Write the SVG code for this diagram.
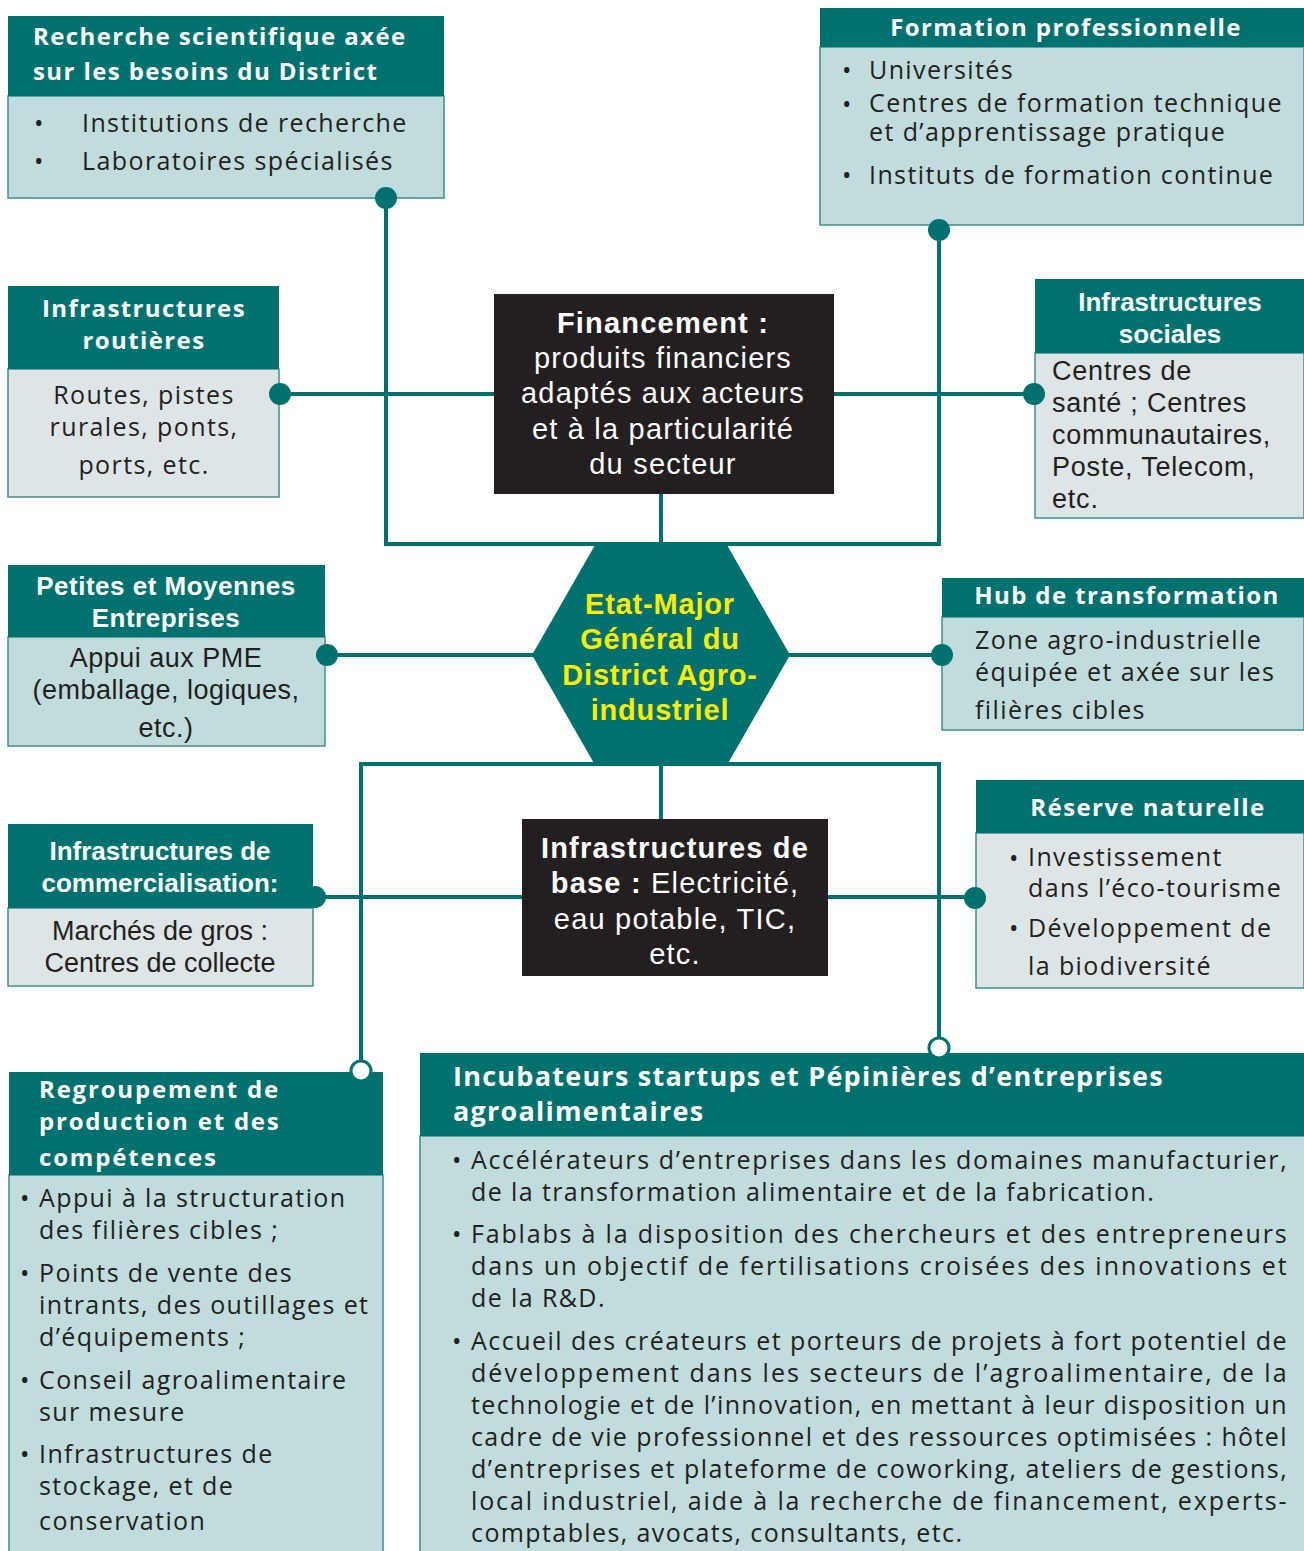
<svg xmlns="http://www.w3.org/2000/svg" width="1304" height="1551" viewBox="0 0 1304 1551">
<defs>
<style>
.hd{fill:#00716f}
.bl{fill:#c0dcdc;stroke:#3f8f8e;stroke-width:1.5}
.bg{fill:#dde5e6;stroke:#3f8f8e;stroke-width:1.5}
.bk{fill:#231f20}
.ht{font-family:"Open Sans","Liberation Sans",sans-serif;font-weight:700;font-size:24px;letter-spacing:1.4px;fill:#fff}
.hc{font-family:"Liberation Sans",Arial,sans-serif;font-weight:700;font-size:26px;fill:#fff}
.bt{font-family:"Open Sans","Liberation Sans",sans-serif;font-size:25px;letter-spacing:1.4px;fill:#231f20}
.bc{font-family:"Liberation Sans",Arial,sans-serif;font-size:27px;fill:#231f20}
.wt{font-family:"Liberation Sans",Arial,sans-serif;font-size:29px;letter-spacing:1.2px;fill:#fff}
.yt{font-family:"Liberation Sans",Arial,sans-serif;font-weight:700;font-size:29px;letter-spacing:0.8px;fill:#ffed00}
.mid{text-anchor:middle}
.ln{fill:none;stroke:#00716f;stroke-width:4}
.dot{fill:#00716f}
.odot{fill:#fff;stroke:#00716f;stroke-width:3}
</style>
</defs>
<g id="connectors">
<path class="ln" d="M386,198 V544 H939 V230"/>
<path class="ln" d="M280,394 H494 M833,394 H1034"/>
<path class="ln" d="M661,494 V546"/>
<path class="ln" d="M327,655 H534 M788,655 H942"/>
<path class="ln" d="M361,1062 V764 H939 V1040"/>
<path class="ln" d="M661,764 V820"/>
<path class="ln" d="M315,897 H522 M828,897 H975"/>
</g>
<g id="recherche">
<rect class="bl" x="8" y="96" width="436" height="102"/>
<rect class="hd" x="8" y="16" width="436" height="80"/>
<text class="ht" x="33" y="45">Recherche scientifique axée</text>
<text class="ht" x="33" y="80">sur les besoins du District</text>
<text class="bt" x="34" y="132">•</text>
<text class="bt" x="82" y="132">Institutions de recherche</text>
<text class="bt" x="34" y="170">•</text>
<text class="bt" x="82" y="170">Laboratoires spécialisés</text>
<circle class="dot" cx="386" cy="198" r="11"/>
</g>
<g id="formation">
<rect class="bl" x="820" y="47" width="484" height="178"/>
<rect class="hd" x="820" y="8" width="484" height="39"/>
<text class="ht mid" x="1066" y="36">Formation professionnelle</text>
<text class="bt" x="842" y="79">•</text>
<text class="bt" x="869" y="79">Universités</text>
<text class="bt" x="842" y="113">•</text>
<text class="bt" x="869" y="112">Centres de formation technique</text>
<text class="bt" x="869" y="141">et d’apprentissage pratique</text>
<text class="bt" x="842" y="184">•</text>
<text class="bt" x="869" y="184">Instituts de formation continue</text>
<circle class="dot" cx="939" cy="230" r="11"/>
</g>
<g id="routieres">
<rect class="bg" x="8" y="369" width="271" height="128"/>
<rect class="hd" x="8" y="286" width="271" height="83"/>
<text class="ht mid" x="144" y="317">Infrastructures</text>
<text class="ht mid" x="144" y="349">routières</text>
<text class="bt mid" x="144" y="404">Routes, pistes</text>
<text class="bt mid" x="144" y="436">rurales, ponts,</text>
<text class="bt mid" x="144" y="474">ports, etc.</text>
<circle class="dot" cx="280" cy="394" r="11"/>
</g>
<g id="financement">
<rect class="bk" x="494" y="294" width="340" height="200"/>
<text class="wt mid" x="663" y="333" font-weight="700">Financement :</text>
<text class="wt mid" x="663" y="368">produits financiers</text>
<text class="wt mid" x="663" y="403">adaptés aux acteurs</text>
<text class="wt mid" x="663" y="439">et à la particularité</text>
<text class="wt mid" x="663" y="474">du secteur</text>
</g>
<g id="sociales">
<rect class="bg" x="1035" y="353" width="269" height="165"/>
<rect class="hd" x="1035" y="279" width="269" height="74"/>
<text class="hc mid" x="1170" y="311">Infrastructures</text>
<text class="hc mid" x="1170" y="343">sociales</text>
<text class="bc" x="1052" y="380" style="letter-spacing:0.8px">Centres de</text>
<text class="bc" x="1052" y="412" style="letter-spacing:0.8px">santé ; Centres</text>
<text class="bc" x="1052" y="444" style="letter-spacing:0.8px">communautaires,</text>
<text class="bc" x="1052" y="476" style="letter-spacing:0.8px">Poste, Telecom,</text>
<text class="bc" x="1052" y="508" style="letter-spacing:0.8px">etc.</text>
<circle class="dot" cx="1034" cy="394" r="11"/>
</g>
<g id="etat-major">
<polygon class="dot" points="595,545 727,545 790,655 727,765 595,765 532,655"/>
<text class="yt mid" x="660" y="614">Etat-Major</text>
<text class="yt mid" x="660" y="649">Général du</text>
<text class="yt mid" x="660" y="685">District Agro-</text>
<text class="yt mid" x="660" y="720">industriel</text>
</g>
<g id="pme">
<rect class="bl" x="8" y="637" width="317" height="109"/>
<rect class="hd" x="8" y="565" width="317" height="72"/>
<text class="hc mid" x="166" y="595" style="letter-spacing:0.5px">Petites et Moyennes</text>
<text class="hc mid" x="166" y="627" style="letter-spacing:0.5px">Entreprises</text>
<text class="bc mid" x="166" y="667" style="letter-spacing:0.5px">Appui aux PME</text>
<text class="bc mid" x="166" y="699" style="letter-spacing:0.5px">(emballage, logiques,</text>
<text class="bc mid" x="166" y="737" style="letter-spacing:0.5px">etc.)</text>
<circle class="dot" cx="327" cy="655" r="11"/>
</g>
<g id="hub">
<rect class="bl" x="942" y="617" width="362" height="113"/>
<rect class="hd" x="942" y="578" width="362" height="39"/>
<text class="ht mid" x="1127" y="604">Hub de transformation</text>
<text class="bt" x="975" y="649">Zone agro-industrielle</text>
<text class="bt" x="975" y="681">équipée et axée sur les</text>
<text class="bt" x="975" y="719">filières cibles</text>
<circle class="dot" cx="942" cy="655" r="11"/>
</g>
<g id="reserve">
<rect class="bg" x="976" y="833" width="328" height="155"/>
<rect class="hd" x="976" y="780" width="328" height="53"/>
<text class="ht mid" x="1148" y="816">Réserve naturelle</text>
<text class="bt" x="1009" y="867">•</text>
<text class="bt" x="1028" y="866">Investissement</text>
<text class="bt" x="1028" y="897">dans l’éco-tourisme</text>
<text class="bt" x="1009" y="937">•</text>
<text class="bt" x="1028" y="937">Développement de</text>
<text class="bt" x="1028" y="975">la biodiversité</text>
<circle class="dot" cx="975" cy="898" r="11"/>
</g>
<g id="commercialisation">
<rect class="bg" x="8" y="908" width="305" height="78"/>
<rect class="hd" x="8" y="824" width="305" height="84"/>
<text class="hc mid" x="160" y="860">Infrastructures de</text>
<text class="hc mid" x="160" y="892">commercialisation:</text>
<text class="bc mid" x="160" y="940">Marchés de gros :</text>
<text class="bc mid" x="160" y="972">Centres de collecte</text>
<circle class="dot" cx="315" cy="897" r="11"/>
</g>
<g id="infra-base">
<rect class="bk" x="522" y="819" width="306" height="157"/>
<text class="wt mid" x="675" y="858" font-weight="700">Infrastructures de</text>
<text class="wt mid" x="675" y="893"><tspan font-weight="700">base :</tspan> Electricité,</text>
<text class="wt mid" x="675" y="929">eau potable, TIC,</text>
<text class="wt mid" x="675" y="964">etc.</text>
</g>
<g id="regroupement">
<rect class="bl" x="9" y="1175" width="374" height="390"/>
<rect class="hd" x="9" y="1072" width="374" height="103"/>
<text class="ht" x="39" y="1098" style="letter-spacing:1.8px">Regroupement de</text>
<text class="ht" x="39" y="1130" style="letter-spacing:1.8px">production et des</text>
<text class="ht" x="39" y="1166" style="letter-spacing:1.8px">compétences</text>
<text class="bt" x="20" y="1207">•</text>
<text class="bt" x="39" y="1207">Appui à la structuration</text>
<text class="bt" x="39" y="1239">des filières cibles ;</text>
<text class="bt" x="20" y="1282">•</text>
<text class="bt" x="39" y="1282">Points de vente des</text>
<text class="bt" x="39" y="1314">intrants, des outillages et</text>
<text class="bt" x="39" y="1346">d’équipements ;</text>
<text class="bt" x="20" y="1389">•</text>
<text class="bt" x="39" y="1389">Conseil agroalimentaire</text>
<text class="bt" x="39" y="1421">sur mesure</text>
<text class="bt" x="20" y="1463">•</text>
<text class="bt" x="39" y="1463">Infrastructures de</text>
<text class="bt" x="39" y="1495">stockage, et de</text>
<text class="bt" x="39" y="1530">conservation</text>
<circle class="odot" cx="361" cy="1071" r="10"/>
</g>
<g id="incubateurs">
<rect class="bl" x="420" y="1136" width="890" height="430"/>
<rect class="hd" x="420" y="1053" width="884" height="83"/>
<text class="ht" x="453" y="1086" style="font-size:27px;letter-spacing:1.25px">Incubateurs startups et Pépinières d’entreprises</text>
<text class="ht" x="453" y="1121" style="font-size:27px;letter-spacing:1.25px">agroalimentaires</text>
<text class="bt" x="452" y="1169">•</text>
<text class="bt" x="471" y="1169" textLength="817" lengthAdjust="spacing">Accélérateurs  d’entreprises dans les domaines manufacturier,</text>
<text class="bt" x="471" y="1201">de la transformation alimentaire et de la fabrication.</text>
<text class="bt" x="452" y="1243">•</text>
<text class="bt" x="471" y="1243" textLength="817" lengthAdjust="spacing">Fablabs à la disposition des chercheurs et des entrepreneurs</text>
<text class="bt" x="471" y="1275" textLength="817" lengthAdjust="spacing">dans un objectif de fertilisations croisées des innovations et</text>
<text class="bt" x="471" y="1307">de la R&amp;D.</text>
<text class="bt" x="452" y="1350">•</text>
<text class="bt" x="471" y="1350" textLength="817" lengthAdjust="spacing">Accueil des créateurs et porteurs de projets à fort potentiel de</text>
<text class="bt" x="471" y="1382" textLength="817" lengthAdjust="spacing">développement dans les secteurs de l’agroalimentaire, de la</text>
<text class="bt" x="471" y="1414" textLength="817" lengthAdjust="spacing">technologie et de l’innovation, en mettant à leur disposition un</text>
<text class="bt" x="471" y="1446" textLength="817" lengthAdjust="spacing">cadre de vie professionnel et des ressources optimisées : hôtel</text>
<text class="bt" x="471" y="1478" textLength="817" lengthAdjust="spacing">d’entreprises et plateforme de coworking, ateliers de gestions,</text>
<text class="bt" x="471" y="1510" textLength="817" lengthAdjust="spacing">local industriel, aide à la recherche de financement, experts-</text>
<text class="bt" x="471" y="1542">comptables, avocats, consultants, etc.</text>
<circle class="odot" cx="939" cy="1048" r="10"/>
</g>
</svg>
